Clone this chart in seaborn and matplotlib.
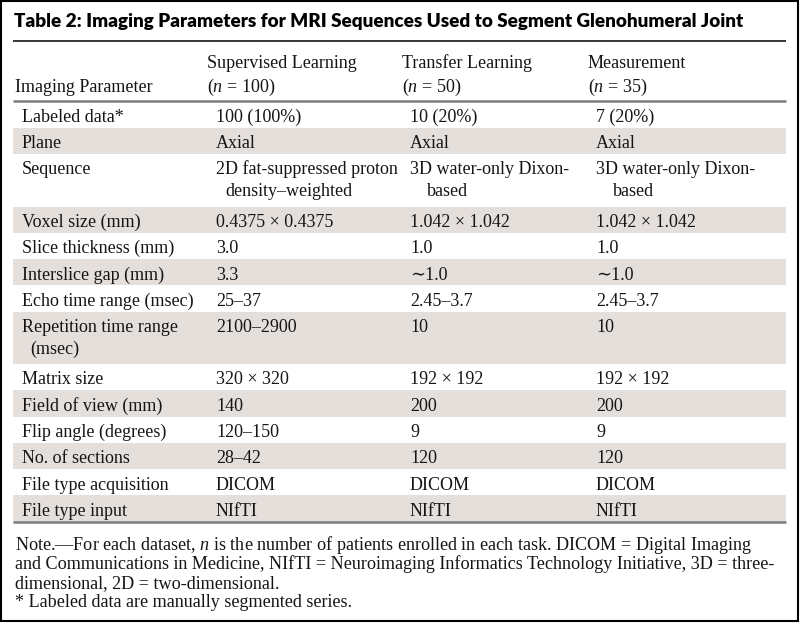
import matplotlib
matplotlib.use("Agg")
import matplotlib.pyplot as plt
from matplotlib.patches import Rectangle
import seaborn as sns

# table content
title = "Table 2: Imaging Parameters for MRI Sequences Used to Segment Glenohumeral Joint"
header = ["Imaging Parameter", "Supervised Learning", "Transfer Learning", "Measurement"]
group_n = ["", "100", "50", "35"]
parameters = ["Labeled data*", "Plane", "Sequence", "Voxel size (mm)", "Slice thickness (mm)",
              "Interslice gap (mm)", "Echo time range (msec)", "Repetition time range\n(msec)",
              "Matrix size", "Field of view (mm)", "Flip angle (degrees)", "No. of sections",
              "File type acquisition", "File type input"]
supervised = ["100 (100%)", "Axial", "2D fat-suppressed proton\ndensity–weighted", "0.4375 × 0.4375",
              "3.0", "3.3", "25–37", "2100–2900", "320 × 320", "140", "120–150", "28–42", "DICOM", "NIfTI"]
transfer = ["10 (20%)", "Axial", "3D water-only Dixon-\nbased", "1.042 × 1.042", "1.0", "∼1.0",
            "2.45–3.7", "10", "192 × 192", "200", "9", "120", "DICOM", "NIfTI"]
measurement = ["7 (20%)", "Axial", "3D water-only Dixon-\nbased", "1.042 × 1.042", "1.0", "∼1.0",
               "2.45–3.7", "10", "192 × 192", "200", "9", "120", "DICOM", "NIfTI"]
notes = ["Note.—For each dataset, $n$ is the number of patients enrolled in each task. DICOM = Digital Imaging",
         "and Communications in Medicine, NIfTI = Neuroimaging Informatics Technology Initiative, 3D = three-",
         "dimensional, 2D = two-dimensional.",
         "* Labeled data are manually segmented series."]

sns.set_theme(style="white")
plt.rcParams["font.family"] = ["Liberation Serif", "DejaVu Serif"]
plt.rcParams["mathtext.fontset"] = "custom"
plt.rcParams["mathtext.rm"] = "Liberation Serif"
plt.rcParams["mathtext.it"] = "Liberation Serif:italic"

W, H = 800, 623
fig = plt.figure(figsize=(W / 100, H / 100), dpi=100)
ax = fig.add_axes([0, 0, 1, 1])
ax.set_xlim(0, W)
ax.set_ylim(H, 0)
ax.axis("off")

fs = 13
ink = "#151515"
shade = "#e5dfdc"
rule = "#7d7d7d"
left, right = 13, 786
col_x = [22, 216, 410, 596]
head_x = [15, 207, 402, 588]
wrap_indent = [8, 9, 17, 17]
row_h, line_gap, base_off = 26.25, 22, 20.5

# title, fitted to the width it has in the original
t = ax.text(left + 1, 27.5, title, fontsize=13.5, fontweight="heavy", family=["Lato", "DejaVu Sans"],
            color="black", va="baseline")
fig.canvas.draw()
t.set_fontsize(t.get_fontsize() * 728 / t.get_window_extent().width)
ax.plot([left, right], [40.5, 40.5], color="black", lw=1.1, solid_capstyle="butt")

for i, name in enumerate(header):
    if i == 0:
        ax.text(head_x[i], 92, name, fontsize=fs, va="baseline", color=ink)
    else:
        ax.text(head_x[i], 68, name, fontsize=fs, va="baseline", color=ink)
        ax.text(head_x[i], 92, f"($n$ = {group_n[i]})", fontsize=fs, va="baseline", color=ink)
ax.plot([left, right], [100.5, 100.5], color=rule, lw=1.8, solid_capstyle="butt")

# body rows, a wrapped cell takes two row units
top = 101.5
columns = [parameters, supervised, transfer, measurement]
for r in range(len(parameters)):
    cells = [col[r].split("\n") for col in columns]
    nlines = max(len(c) for c in cells)
    h = row_h * nlines
    if r % 2 == 1:
        ax.add_patch(Rectangle((left, top), right - left, h, color=shade, lw=0))
    for c, lines in enumerate(cells):
        for j, txt in enumerate(lines):
            ax.text(col_x[c] + (wrap_indent[c] if j else 0), top + base_off + j * line_gap, txt,
                    fontsize=fs, va="baseline", color=ink)
    top += h

ax.plot([left, right], [top, top], color=rule, lw=1.8, solid_capstyle="butt")

for k, line in enumerate(notes):
    ax.text(15, top + 29 + k * 18.8, line, fontsize=13.1, va="baseline", color=ink)

# outer frame
ax.add_patch(Rectangle((1, 1), W - 3, H - 3, fill=False, edgecolor="black", lw=1.5))

fig.savefig("out.png", dpi=100)
